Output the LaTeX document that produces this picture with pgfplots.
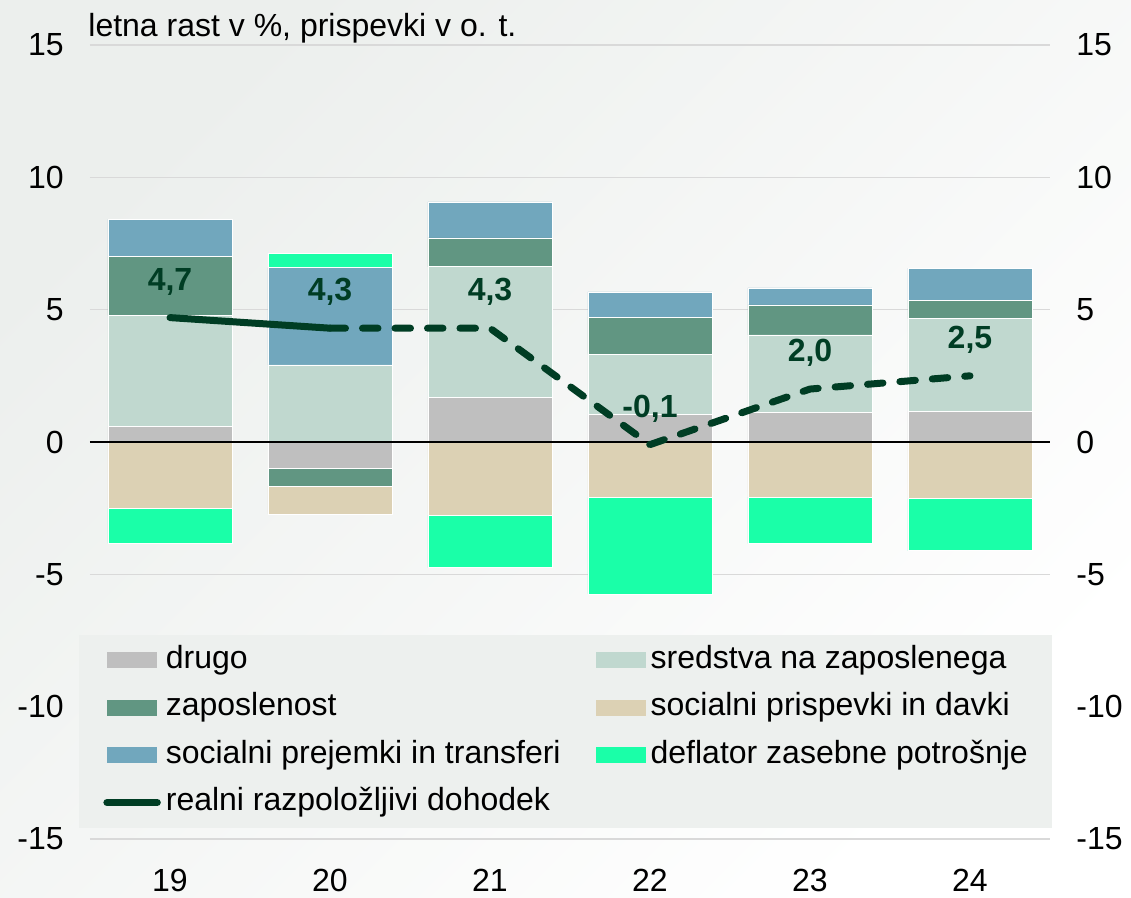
\documentclass[border=0pt]{standalone}
\usepackage{fontspec}
\setmainfont{Liberation Sans}
\usepackage{pgfplots}
\usepackage{pgfplotstable}
\pgfplotsset{compat=1.18}

\definecolor{cDrugo}{RGB}{191,191,191}
\definecolor{cSred}{RGB}{192,216,207}
\definecolor{cZap}{RGB}{97,150,130}
\definecolor{cPrisp}{RGB}{220,209,180}
\definecolor{cPrej}{RGB}{113,167,189}
\definecolor{cDefl}{RGB}{26,255,168}
\definecolor{cLine}{RGB}{0,61,36}
\definecolor{cGrid}{RGB}{217,217,217}
\definecolor{cLeg}{RGB}{237,240,238}
\definecolor{cBg}{RGB}{236,239,237}

\newcommand\fs{\fontsize{16}{19.2}\selectfont}

\pgfplotsset{
  patchleg/.style={legend image code/.code={\fill[##1, draw=none] (0pt,-4pt) rectangle (25pt,4pt);}},
  lineleg/.style={legend image code/.code={\draw[##1] (0pt,0pt) -- (25pt,0pt);}},
  segs/.style={draw=white, line width=0.3pt},
}

% x, positive stack, negative stack (pgfplots stacks negatives separately)
\pgfplotstableread{
x drugoP sred zapP prej deflP drugoN zapN prisp deflN
0 0.58 4.19 2.23 1.41 0    0     0     -2.51 -1.32
1 0    2.91 0    3.68 0.54 -0.98 -0.68 -1.06 0
2 1.67 4.95 1.09 1.36 0    0     0     -2.76 -1.99
3 1.05 2.27 1.40 0.95 0    0     0     -2.10 -3.65
4 1.12 2.93 1.13 0.64 0    0     0     -2.08 -1.76
5 1.17 3.49 0.70 1.21 0    0     0     -2.14 -1.97
}\bars

\pgfplotstableread{
x y lab
0 4.7 4,7
1 4.3 4,3
2 4.3 4,3
3 -0.1 -0,1
4 2.0 2,0
5 2.5 2,5
}\rrd

\begin{document}
\begin{tikzpicture}
\shade[shading=axis, top color=cBg, bottom color=white, shading angle=45] (-45pt,-29.5pt) rectangle (520.5pt,419.5pt);

\begin{axis}[
  at={(0,0)}, anchor=south west,
  scale only axis, width=480pt, height=397pt,
  xmin=-0.5, xmax=5.5, ymin=-15, ymax=15, enlargelimits=false,
  ybar stacked, bar width=0.775,
  axis line style={draw=none}, major tick length=0pt,
  ytick={-15,-10,-5,0,5,10,15}, yticklabels={-15,-10,-5,0,5,10,15},
  xtick={0,1,2,3,4,5}, xticklabels={19,20,21,22,23,24},
  ymajorgrids, grid style={cGrid, line width=0.8pt},
  yticklabel style={font=\fs, anchor=east, inner sep=0pt, xshift=-13pt},
  xticklabel style={font=\fs, anchor=north, inner sep=0pt, yshift=-14.75pt},
]
% negative stack
\addplot[fill=cDrugo, segs] table[x=x, y=drugoN]{\bars};
\addplot[fill=cZap, segs] table[x=x, y=zapN]{\bars};
\addplot[fill=cPrisp, segs] table[x=x, y=prisp]{\bars};
\addplot[fill=cDefl, segs] table[x=x, y=deflN]{\bars};
% positive stack
\addplot[fill=cDrugo, segs] table[x=x, y=drugoP]{\bars};
\addplot[fill=cSred, segs] table[x=x, y=sred]{\bars};
\addplot[fill=cZap, segs] table[x=x, y=zapP]{\bars};
\addplot[fill=cPrej, segs] table[x=x, y=prej]{\bars};
\addplot[fill=cDefl, segs] table[x=x, y=deflP]{\bars};
\end{axis}

\begin{axis}[
  at={(0,0)}, anchor=south west,
  scale only axis, width=480pt, height=397pt,
  xmin=-0.5, xmax=5.5, ymin=-15, ymax=15, enlargelimits=false,
  axis line style={draw=none}, major tick length=0pt,
  xtick=\empty,
  ytick={-15,-10,-5,0,5,10,15}, yticklabels={-15,-10,-5,0,5,10,15},
  yticklabel pos=right,
  yticklabel style={font=\fs, anchor=west, inner sep=0pt, xshift=13pt},
  clip=false,
  legend columns=2,
  legend cell align=left,
  legend style={at={(-0.0115,0.2576)}, anchor=north west,
    fill=cLeg, draw=none, inner xsep=12pt, inner ysep=5.25pt,
    font=\fs, row sep=8.7pt,
    nodes={inner sep=0pt, text height=11.5pt, text depth=3.5pt},
    /tikz/every odd column/.append style={column sep=2.5pt},
    /tikz/every even column/.append style={column sep=17.5pt}},
]
\addlegendimage{patchleg, fill=cDrugo}
\addlegendimage{patchleg, fill=cSred}
\addlegendimage{patchleg, fill=cZap}
\addlegendimage{patchleg, fill=cPrisp}
\addlegendimage{patchleg, fill=cPrej}
\addlegendimage{patchleg, fill=cDefl}
\addlegendimage{lineleg, cLine, line width=3.75pt, line cap=round}

\draw[black, line width=0.6pt] (axis cs:-0.5,0) -- (axis cs:5.5,0);

\addplot[cLine, line width=3.5pt, line cap=round, mark=none, forget plot]
  coordinates {(0,4.7) (1,4.3)};
\addplot[cLine, line width=3.5pt, line cap=round, line join=round, mark=none, forget plot,
  dash pattern=on 7.75pt off 8.5pt]
  coordinates {(1,4.3) (2,4.3) (3,-0.1) (4,2.0) (5,2.5)};
\addplot[draw=none, mark=none, forget plot, nodes near coords, point meta=explicit symbolic,
  every node near coord/.style={font=\fs\bfseries, text=cLine, anchor=center, yshift=18pt}]
  table[x=x, y=y, meta=lab]{\rrd};

\node[anchor=base west, font=\fs, inner sep=0pt, xshift=-1pt, yshift=4pt] at (rel axis cs:0,1) {letna rast v \%, prispevki v o. t.};

\legend{drugo, sredstva na zaposlenega, zaposlenost, socialni prispevki in davki, socialni prejemki in transferi, deflator zasebne potrošnje, realni razpoložljivi dohodek}
\end{axis}

\pgfresetboundingbox
\path[use as bounding box] (-45pt,-29.5pt) rectangle (520.5pt,419.5pt);
\end{tikzpicture}
\end{document}
